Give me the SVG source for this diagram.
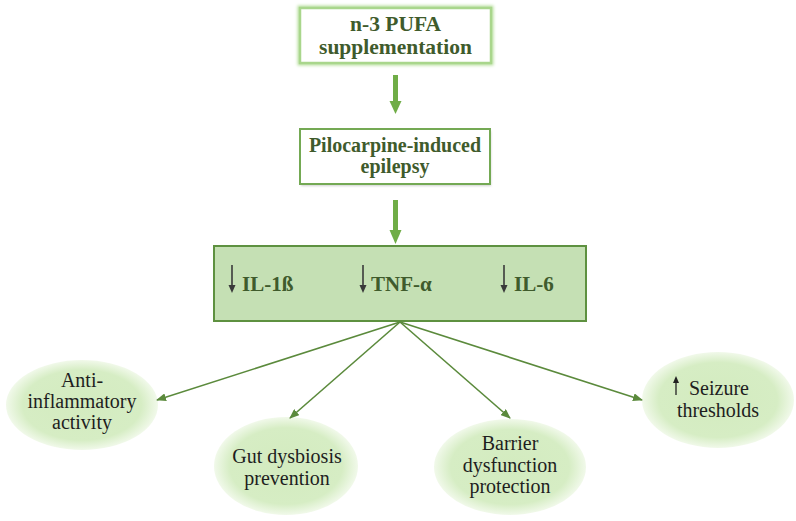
<svg xmlns="http://www.w3.org/2000/svg" width="796" height="521" viewBox="0 0 796 521">
<defs>
<marker id="ah" markerWidth="10" markerHeight="8" refX="9" refY="4" orient="auto" markerUnits="userSpaceOnUse">
<path d="M0,0 L10,4 L0,8 Z" fill="#5b8a3c"/>
</marker>
<radialGradient id="eg" cx="0.5" cy="0.5" r="0.5">
<stop offset="0" stop-color="#d3ebbf"/>
<stop offset="0.78" stop-color="#d6edc4"/>
<stop offset="1" stop-color="#f1f9ea"/>
</radialGradient>
<filter id="glow" x="-10%" y="-20%" width="120%" height="140%">
<feGaussianBlur stdDeviation="1.5"/>
</filter>
<filter id="soft" x="-10%" y="-10%" width="120%" height="120%">
<feGaussianBlur stdDeviation="1.2"/>
</filter>
</defs>
<rect width="796" height="521" fill="#ffffff"/>

<g id="n1" text-anchor="middle" font-family="Liberation Serif" font-weight="bold" fill="#3f5b2c" font-size="21.5">
<rect x="300" y="8" width="191" height="55" fill="none" stroke="#b9e0a0" stroke-width="5" filter="url(#glow)"/>
<rect x="300" y="8" width="191" height="55" fill="#ffffff" stroke="#a9d68c" stroke-width="2.5"/>
<text x="395.5" y="31">n-3 PUFA</text>
<text x="395.5" y="54">supplementation</text>
</g>

<g id="n2" text-anchor="middle" font-family="Liberation Serif" font-weight="bold" fill="#3f5b2c" font-size="20">
<rect x="301" y="131" width="190" height="55" fill="#cfcfcf" filter="url(#soft)"/>
<rect x="300" y="129" width="190" height="55" fill="#ffffff" stroke="#74a954" stroke-width="2"/>
<text x="395" y="152">Pilocarpine-induced</text>
<text x="395" y="173">epilepsy</text>
</g>

<g id="n3" font-family="Liberation Serif" font-weight="bold" fill="#3f5b2c" font-size="21">
<rect x="214" y="246" width="372" height="75" fill="#c5e0b4" stroke="#5e9140" stroke-width="2"/>
<g stroke="#3a3a3a" stroke-width="1.6" fill="#3a3a3a">
<line x1="232" y1="265" x2="232" y2="288"/>
<path d="M228.5,285 L235.5,285 L232,293 Z" stroke="none"/>
<line x1="363" y1="265" x2="363" y2="288"/>
<path d="M359.5,285 L366.5,285 L363,293 Z" stroke="none"/>
<line x1="504" y1="265" x2="504" y2="288"/>
<path d="M500.5,285 L507.5,285 L504,293 Z" stroke="none"/>
</g>
<text x="242" y="291">IL-1ß</text>
<text x="371" y="291">TNF-α</text>
<text x="514" y="291">IL-6</text>
</g>

<g id="n4" text-anchor="middle" font-family="Liberation Serif" font-size="20" fill="#1e1e1e">
<ellipse cx="82" cy="405" rx="76" ry="45" fill="url(#eg)"/>
<text x="82" y="387">Anti-</text>
<text x="82" y="408">inflammatory</text>
<text x="82" y="429">activity</text>
</g>

<g id="n5" text-anchor="middle" font-family="Liberation Serif" font-size="20" fill="#1e1e1e">
<ellipse cx="286" cy="466" rx="72" ry="49" fill="url(#eg)"/>
<text x="287" y="463">Gut dysbiosis</text>
<text x="287" y="485">prevention</text>
</g>

<g id="n6" text-anchor="middle" font-family="Liberation Serif" font-size="20" fill="#1e1e1e">
<ellipse cx="510" cy="467" rx="76" ry="48" fill="url(#eg)"/>
<text x="510" y="450">Barrier</text>
<text x="510" y="472">dysfunction</text>
<text x="510" y="493">protection</text>
</g>

<g id="n7" text-anchor="middle" font-family="Liberation Serif" font-size="20" fill="#1e1e1e">
<ellipse cx="718" cy="400" rx="76" ry="48" fill="url(#eg)"/>
<line x1="676" y1="381" x2="676" y2="395" stroke="#222" stroke-width="1.3"/>
<path d="M673,383 L679,383 L676,376 Z" fill="#222"/>
<text x="719" y="395">Seizure</text>
<text x="718" y="417">thresholds</text>
</g>

<g id="connectors" fill="#70ad47" stroke="#5b8a3c">
<rect x="393" y="75" width="5" height="28" stroke="none"/>
<path d="M389.5,101 L401.5,101 L395.5,114 Z" stroke="none"/>
<rect x="393" y="200" width="5" height="32" stroke="none"/>
<path d="M389.5,230 L401.5,230 L395.5,244 Z" stroke="none"/>
<g fill="none" stroke-width="1.6">
<line x1="400" y1="322" x2="157" y2="400" marker-end="url(#ah)"/>
<line x1="400" y1="322" x2="290" y2="418" marker-end="url(#ah)"/>
<line x1="400" y1="322" x2="510" y2="418" marker-end="url(#ah)"/>
<line x1="400" y1="322" x2="642" y2="400" marker-end="url(#ah)"/>
</g>
</g>
</svg>
